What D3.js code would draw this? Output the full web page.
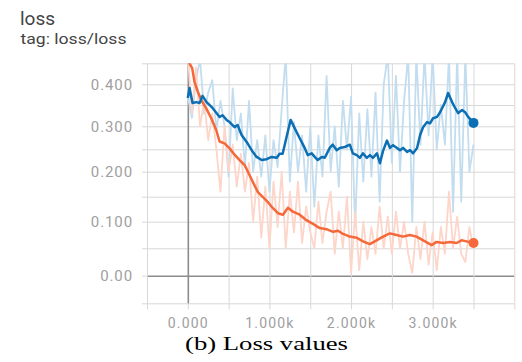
<!DOCTYPE html>
<html>
<head>
<meta charset="utf-8">
<script src="https://cdn.jsdelivr.net/npm/d3@7"></script>
<style>
  body { margin: 0; background: #fff; }
  svg { display: block; }
</style>
</head>
<body>
<svg id="chart" width="522" height="362"></svg>
<script>
// Raw loss values, logged every 50 steps
const rawSteps = [0,50,100,150,200,250,300,350,400,450,500,550,600,650,700,750,800,850,900,950,
  1000,1050,1100,1150,1200,1250,1300,1350,1400,1450,1500,1550,1600,1650,1700,1750,1800,1850,1900,1950,
  2000,2050,2100,2150,2200,2250,2300,2350,2400,2450,2500,2550,2600,2650,2700,2750,2800,2850,2900,2950,
  3000,3050,3100,3150,3200,3250,3300,3350,3400,3450,3500];
const blueRaw = [0.37,0.32,0.41,0.46,0.33,0.38,0.41,0.29,0.36,0.30,0.19,0.39,0.27,0.33,0.21,0.36,0.20,0.27,0.19,0.28,
  0.16,0.27,0.21,0.34,0.47,0.18,0.31,0.20,0.28,0.16,0.30,0.13,0.28,0.19,0.42,0.20,0.30,0.17,0.36,0.25,
  0.37,0.09,0.33,0.18,0.34,0.19,0.38,0.14,0.40,0.47,0.22,0.42,0.20,0.36,0.47,0.10,0.47,0.26,0.47,0.28,
  0.47,0.25,0.35,0.26,0.47,0.12,0.47,0.14,0.47,0.20,0.26];
const orangeRaw = [0.47,0.33,0.44,0.30,0.36,0.27,0.33,0.25,0.16,0.30,0.20,0.26,0.17,0.24,0.16,0.22,0.10,0.19,0.07,0.17,
  0.05,0.18,0.09,0.20,0.05,0.16,0.08,0.18,0.06,0.13,0.08,0.05,0.14,0.06,0.12,0.16,0.04,0.12,0.05,0.15,
  0.005,0.12,0.01,0.10,0.03,0.09,0.04,0.13,0.05,0.11,0.04,0.12,0.05,0.10,0.04,0.005,0.09,0.03,0.10,0.02,
  0.08,0.01,0.09,0.04,0.16,0.05,0.11,0.04,0.025,0.09,0.05];

// Smoothed curves
const blueSmoothSteps = [0,21,58,107,144,180,230,303,389,426,475,512,573,610,659,721,782,843,905,966,
  1027,1089,1125,1162,1211,1260,1309,1371,1432,1469,1518,1555,1592,1641,1678,1739,1776,1825,1862,1923,
  1985,2022,2071,2108,2145,2194,2231,2268,2317,2354,2391,2440,2477,2514,2563,2600,2637,2686,2723,2760,
  2809,2846,2882,2932,2968,3005,3054,3091,3152,3189,3238,3275,3312,3361,3398,3435,3500];
const blueSmooth = [0.367,0.391,0.355,0.357,0.355,0.372,0.357,0.343,0.322,0.326,0.315,0.31,0.298,0.303,0.281,0.266,0.248,0.233,0.226,0.228,
  0.233,0.231,0.24,0.24,0.278,0.315,0.296,0.274,0.253,0.237,0.241,0.233,0.226,0.233,0.231,0.253,0.26,0.248,0.253,0.255,
  0.26,0.241,0.237,0.231,0.241,0.231,0.237,0.231,0.241,0.219,0.246,0.269,0.253,0.259,0.253,0.248,0.253,0.244,0.248,0.241,
  0.253,0.281,0.298,0.31,0.307,0.319,0.322,0.333,0.357,0.379,0.357,0.343,0.331,0.338,0.333,0.322,0.308];
const orangeSmoothSteps = [0,21,54,82,123,164,226,287,348,389,450,512,573,634,696,736,798,859,920,982,
  1043,1104,1166,1227,1288,1371,1453,1534,1616,1698,1780,1841,1902,1984,2066,2147,2230,2312,2393,2475,
  2557,2638,2720,2802,2884,2987,3048,3129,3211,3293,3354,3416,3500];
const orangeSmooth = [0.47,0.45,0.438,0.406,0.382,0.362,0.342,0.319,0.292,0.267,0.263,0.252,0.238,0.226,0.215,0.2,0.179,0.159,0.149,0.139,
  0.127,0.117,0.114,0.128,0.12,0.114,0.103,0.096,0.088,0.086,0.081,0.083,0.077,0.072,0.07,0.063,0.058,0.065,0.072,0.078,
  0.075,0.072,0.075,0.072,0.065,0.056,0.062,0.06,0.062,0.06,0.065,0.063,0.06];

// Axis ticks and labels
const xTicks = [-500,0,500,1000,1500,2000,2500,3000,3500,4000];
const xLabelTicks = [0,1000,2000,3000];
const xTickLabels = ["0.000","1.000k","2.000k","3.000k"];
const yTicks = [-0.05,0,0.05,0.1,0.15,0.2,0.25,0.3,0.35,0.4,0.45];
const yLabelTicks = [0,0.1,0.2,0.3,0.4];
const yTickLabels = ["0.00","0.100","0.200","0.300","0.400"];

const svg = d3.select("#chart");
const plotLeft = 147, plotRight = 514.3, plotTop = 63.3, plotBottom = 303.3;

const x = d3.scaleLinear().domain([-500, 4000]).range([plotLeft, plotRight]);
// vertical spacing of the grid widens toward the bottom
const y = d3.scaleLinear()
  .domain(yTicks)
  .range([303.3,275.7,248.3,221.7,196.7,171.7,149.3,126.3,105,84.3,63.3]);

const gridColor = "#d8d8d8";
const labelColor = "#a0a0a0";

// Title
svg.append("text").attr("x", 20).attr("y", 25)
  .attr("font-family", "Roboto, 'Noto Sans', sans-serif").attr("font-size", 19)
  .attr("fill", "#444").text("loss");
svg.append("text").attr("x", 20.5).attr("y", 44)
  .attr("font-family", "Roboto, 'Noto Sans', sans-serif").attr("font-size", 15.5)
  .attr("textLength", 106).attr("lengthAdjust", "spacingAndGlyphs")
  .attr("fill", "#444").text("tag: loss/loss");

// Horizontal grid + y ticks
const yAxis = d3.axisLeft(y).tickValues(yTicks).tickSize(5).tickPadding(9)
  .tickFormat(d => {
    const i = yLabelTicks.findIndex(v => Math.abs(v - d) < 1e-9);
    return i >= 0 ? yTickLabels[i] : "";
  });
const gy = svg.append("g").attr("transform", `translate(${plotLeft},0)`).call(yAxis);
gy.select(".domain").remove();
gy.selectAll(".tick line").attr("stroke", gridColor);
gy.selectAll(".tick").append("line")
  .attr("x1", 0).attr("x2", plotRight - plotLeft)
  .attr("stroke", d => Math.abs(d) < 1e-9 ? "#8c8c8c" : gridColor)
  .attr("stroke-width", d => Math.abs(d) < 1e-9 ? 1.6 : 1);
gy.selectAll(".tick text")
  .attr("font-family", "Roboto, sans-serif").attr("font-size", 15)
  .attr("fill", labelColor).attr("letter-spacing", 0.9);

// Vertical grid + x ticks
const xAxis = d3.axisBottom(x).tickValues(xTicks).tickSize(6).tickPadding(9)
  .tickFormat(d => {
    const i = xLabelTicks.indexOf(d);
    return i >= 0 ? xTickLabels[i] : "";
  });
const gx = svg.append("g").attr("transform", `translate(0,${plotBottom})`).call(xAxis);
gx.select(".domain").remove();
gx.selectAll(".tick line").attr("stroke", gridColor);
gx.selectAll(".tick").append("line")
  .attr("y1", 0).attr("y2", plotTop - plotBottom)
  .attr("stroke", d => d === 0 ? "#8c8c8c" : gridColor)
  .attr("stroke-width", d => d === 0 ? 1.6 : 1);
gx.selectAll(".tick text")
  .attr("font-family", "Roboto, sans-serif").attr("font-size", 14)
  .attr("fill", labelColor).attr("letter-spacing", 1.2);

// Make the zero lines sit above the light grid
gy.selectAll(".tick").filter(d => Math.abs(d) < 1e-9).raise();
gx.selectAll(".tick").filter(d => d === 0).raise();

// Plot clip
svg.append("clipPath").attr("id", "plot-clip")
  .append("rect").attr("x", plotLeft).attr("y", plotTop)
  .attr("width", plotRight - plotLeft).attr("height", plotBottom - plotTop);
const plot = svg.append("g").attr("clip-path", "url(#plot-clip)");

const line = d3.line().x(d => x(d[0])).y(d => y(d[1]));
const zip = (a, b) => a.map((s, i) => [s, b[i]]);

plot.append("path").datum(zip(rawSteps, blueRaw)).attr("d", line)
  .attr("fill", "none").attr("stroke", "#c2ddef").attr("stroke-width", 1.8)
  .attr("stroke-linejoin", "round");
plot.append("path").datum(zip(rawSteps, orangeRaw)).attr("d", line)
  .attr("fill", "none").attr("stroke", "#fdd5c9").attr("stroke-width", 1.8)
  .attr("stroke-linejoin", "round");

plot.append("path").datum(zip(orangeSmoothSteps, orangeSmooth)).attr("d", line)
  .attr("fill", "none").attr("stroke", "#f4683a").attr("stroke-width", 2.5)
  .attr("stroke-linejoin", "round");
plot.append("path").datum(zip(blueSmoothSteps, blueSmooth)).attr("d", line)
  .attr("fill", "none").attr("stroke", "#0c6fb3").attr("stroke-width", 2.5)
  .attr("stroke-linejoin", "round");

// End markers
const lastB = blueSmoothSteps.length - 1, lastO = orangeSmoothSteps.length - 1;
svg.append("circle").attr("cx", x(orangeSmoothSteps[lastO])).attr("cy", y(orangeSmooth[lastO]))
  .attr("r", 5).attr("fill", "#f4683a");
svg.append("circle").attr("cx", x(blueSmoothSteps[lastB])).attr("cy", y(blueSmooth[lastB]))
  .attr("r", 5).attr("fill", "#0c6fb3");

// Caption
svg.append("text").attr("x", 185).attr("y", 350)
  .attr("font-family", "'Liberation Serif', 'Times New Roman', serif").attr("font-size", 19)
  .attr("textLength", 163).attr("lengthAdjust", "spacingAndGlyphs")
  .attr("fill", "#000").text("(b) Loss values");
</script>
</body>
</html>
